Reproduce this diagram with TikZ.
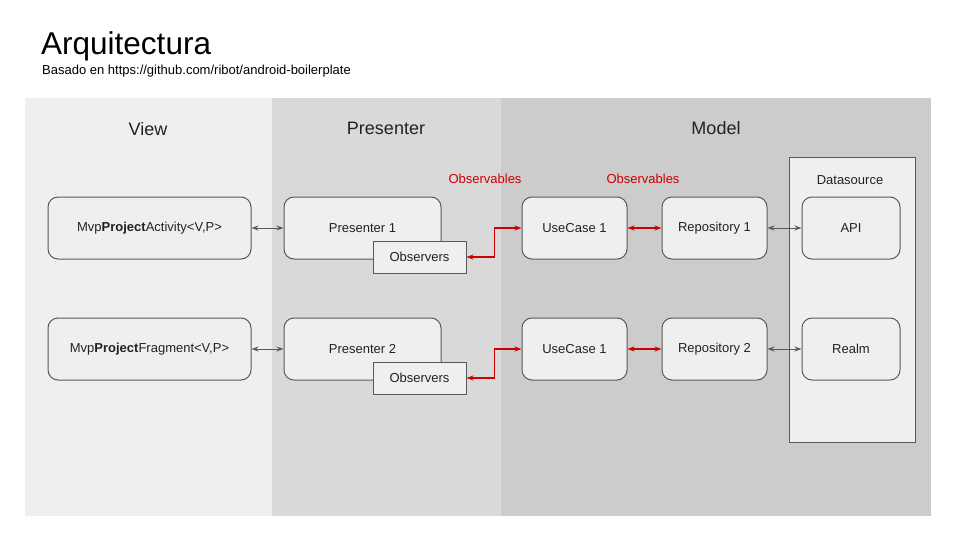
\documentclass[tikz,border=0pt]{standalone}
\usepackage{fontspec}
\setmainfont{Liberation Sans}
\usetikzlibrary{arrows.meta}
\definecolor{pview}{HTML}{EFEFEF}
\definecolor{ppres}{HTML}{D9D9D9}
\definecolor{pmodel}{HTML}{CCCCCC}
\definecolor{boxfill}{HTML}{EFEFEF}
\definecolor{edge}{HTML}{595959}
\definecolor{obsred}{HTML}{CC0000}
\definecolor{txt}{HTML}{222222}
\tikzset{
  rbox/.style={draw=edge, fill=boxfill, line width=1pt, rounded corners=10pt, minimum width=#1, minimum height=62pt, inner sep=0pt, text=txt, font=\fontsize{13}{15}\selectfont},
  obox/.style={draw=edge, fill=boxfill, line width=1pt, minimum width=93pt, minimum height=32pt, inner sep=0pt, text=txt, font=\fontsize{13}{15}\selectfont},
  heading/.style={text=txt, font=\fontsize{18}{21}\selectfont},
  redlabel/.style={text=obsred, font=\fontsize{13}{15}\selectfont},
  grayconn/.style={draw=edge, line width=1pt, {Stealth[length=7pt,width=5pt]}-{Stealth[length=7pt,width=5pt]}},
  redconn/.style={draw=obsred, line width=1.3pt, {Stealth[length=7pt,width=5pt]}-{Stealth[length=7pt,width=5pt]}}
}
\begin{document}
\begin{tikzpicture}[x=1pt,y=-1pt]
\useasboundingbox (0,0) rectangle (960,540);
\fill[white] (0,0) rectangle (960,540);
% panels
\fill[pview] (25,98) rectangle (272,516);
\fill[ppres] (272,98) rectangle (501,516);
\fill[pmodel] (501,98) rectangle (931,516);
% title
\node[anchor=base west, inner sep=0pt, font=\fontsize{31.5}{36}\selectfont] (title) at (41,55) {Arquitectura};
\node[anchor=base west, inner sep=0pt, font=\fontsize{13}{15}\selectfont] (subtitle) at (42,75) {Basado en https://github.com/ribot/android-boilerplate};
% headings
\node[heading] (hview) at (148,129) {View};
\node[heading] (hpres) at (386,128) {Presenter};
\node[heading] (hmodel) at (716,128) {Model};
% datasource
\node[draw=edge, fill=boxfill, line width=1pt, minimum width=126pt, minimum height=284pt, inner sep=0pt] (ds) at (852,300) {};
\node[text=txt, font=\fontsize{13}{15}\selectfont] (dslabel) at (850,180) {Datasource};
% observables labels
\node[redlabel] (obsl1) at (485,179) {Observables};
\node[redlabel] (obsl2) at (643,179) {Observables};
% row 1
\node[rbox=203pt] (act) at (149.5,228) {Mvp\textbf{Project}Activity<V,P>};
\node[rbox=157pt] (p1) at (362.5,228) {Presenter 1};
\node[obox] (o1) at (419.5,257) {Observers};
\node[rbox=105pt] (uc1) at (574.5,228) {UseCase 1};
\node[rbox=105pt] (r1) at (714.5,228) {Repository 1};
\node[rbox=98pt] (api) at (851,228) {API};
% row 2
\node[rbox=203pt] (frag) at (149.5,349) {Mvp\textbf{Project}Fragment<V,P>};
\node[rbox=157pt] (p2) at (362.5,349) {Presenter 2};
\node[obox] (o2) at (419.5,378) {Observers};
\node[rbox=105pt] (uc2) at (574.5,349) {UseCase 1};
\node[rbox=105pt] (r2) at (714.5,349) {Repository 2};
\node[rbox=98pt] (realm) at (851,349) {Realm};
% connectors
\draw[grayconn] (act.east) -- (p1.west);
\draw[grayconn] (frag.east) -- (p2.west);
\draw[redconn] (o1.east) -- ++(28,0) |- (uc1.west);
\draw[redconn] (o2.east) -- ++(28,0) |- (uc2.west);
\draw[redconn] (uc1.east) -- (r1.west);
\draw[redconn] (uc2.east) -- (r2.west);
\draw[grayconn] (r1.east) -- (api.west);
\draw[grayconn] (r2.east) -- (realm.west);
\end{tikzpicture}
\end{document}
